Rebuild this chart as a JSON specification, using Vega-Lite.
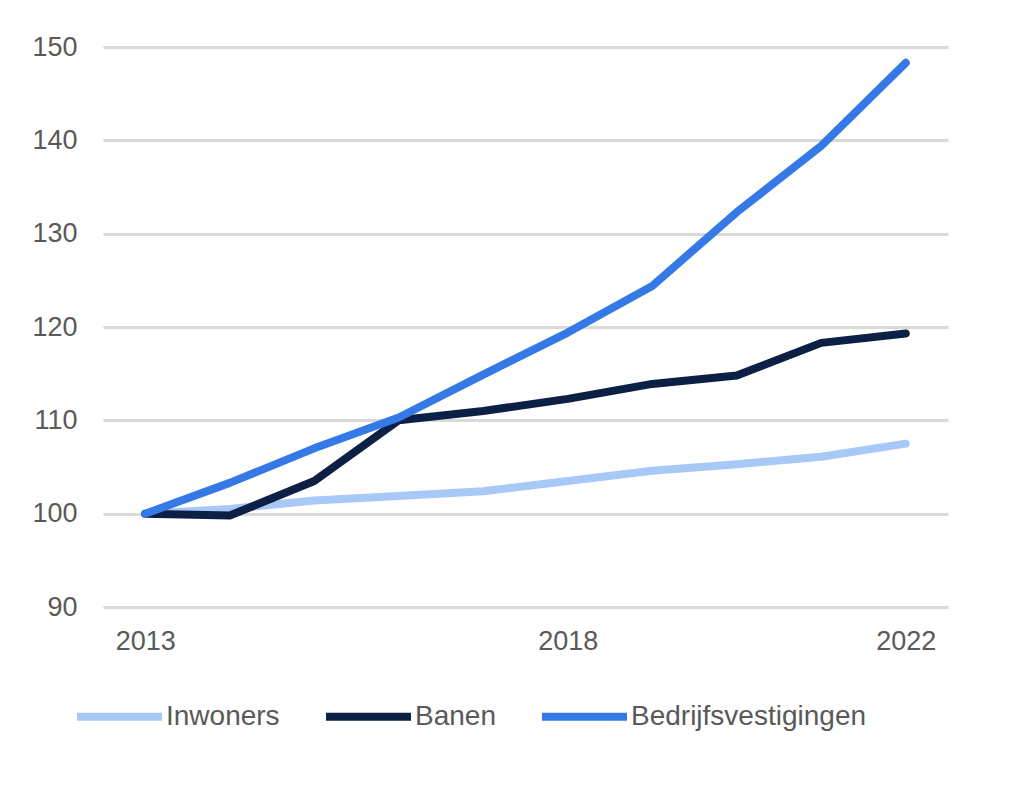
{
  "$schema": "https://vega.github.io/schema/vega-lite/v6.json",
  "width": 845,
  "height": 560,
  "autosize": "none",
  "padding": {"left": 103, "top": 47, "right": 88, "bottom": 185},
  "background": "white",
  "config": {
    "view": {"stroke": null},
    "font": "Liberation Sans"
  },
  "data": {
    "values": [
      {"jaar": 2013, "reeks": "Inwoners", "waarde": 100},
      {"jaar": 2014, "reeks": "Inwoners", "waarde": 100.5},
      {"jaar": 2015, "reeks": "Inwoners", "waarde": 101.4},
      {"jaar": 2016, "reeks": "Inwoners", "waarde": 101.9},
      {"jaar": 2017, "reeks": "Inwoners", "waarde": 102.4},
      {"jaar": 2018, "reeks": "Inwoners", "waarde": 103.5},
      {"jaar": 2019, "reeks": "Inwoners", "waarde": 104.6},
      {"jaar": 2020, "reeks": "Inwoners", "waarde": 105.3},
      {"jaar": 2021, "reeks": "Inwoners", "waarde": 106.1},
      {"jaar": 2022, "reeks": "Inwoners", "waarde": 107.5},
      {"jaar": 2013, "reeks": "Banen", "waarde": 100},
      {"jaar": 2014, "reeks": "Banen", "waarde": 99.8},
      {"jaar": 2015, "reeks": "Banen", "waarde": 103.5},
      {"jaar": 2016, "reeks": "Banen", "waarde": 110.0},
      {"jaar": 2017, "reeks": "Banen", "waarde": 111.0},
      {"jaar": 2018, "reeks": "Banen", "waarde": 112.3},
      {"jaar": 2019, "reeks": "Banen", "waarde": 113.9},
      {"jaar": 2020, "reeks": "Banen", "waarde": 114.8},
      {"jaar": 2021, "reeks": "Banen", "waarde": 118.3},
      {"jaar": 2022, "reeks": "Banen", "waarde": 119.3},
      {"jaar": 2013, "reeks": "Bedrijfsvestigingen", "waarde": 100},
      {"jaar": 2014, "reeks": "Bedrijfsvestigingen", "waarde": 103.3},
      {"jaar": 2015, "reeks": "Bedrijfsvestigingen", "waarde": 107.0},
      {"jaar": 2016, "reeks": "Bedrijfsvestigingen", "waarde": 110.3},
      {"jaar": 2017, "reeks": "Bedrijfsvestigingen", "waarde": 114.9},
      {"jaar": 2018, "reeks": "Bedrijfsvestigingen", "waarde": 119.4},
      {"jaar": 2019, "reeks": "Bedrijfsvestigingen", "waarde": 124.4},
      {"jaar": 2020, "reeks": "Bedrijfsvestigingen", "waarde": 132.3},
      {"jaar": 2021, "reeks": "Bedrijfsvestigingen", "waarde": 139.4},
      {"jaar": 2022, "reeks": "Bedrijfsvestigingen", "waarde": 148.3}
    ]
  },
  "mark": {"type": "line", "strokeWidth": 8, "strokeCap": "round", "strokeJoin": "round"},
  "encoding": {
    "x": {
      "field": "jaar",
      "type": "quantitative",
      "scale": {"domain": [2012.5, 2022.5], "nice": false, "zero": false},
      "axis": {
        "title": null,
        "values": [2013, 2018, 2022],
        "format": "d",
        "grid": false,
        "domain": false,
        "ticks": false,
        "labelFontSize": 27,
        "labelColor": "#595959",
        "labelPadding": 21,
        "labelFlush": false
      }
    },
    "y": {
      "field": "waarde",
      "type": "quantitative",
      "scale": {"domain": [90, 150], "nice": false, "zero": false},
      "axis": {
        "title": null,
        "values": [90, 100, 110, 120, 130, 140, 150],
        "grid": true,
        "gridColor": "#d9d9d9",
        "gridWidth": 3,
        "domain": false,
        "ticks": false,
        "labelFontSize": 27,
        "labelColor": "#595959",
        "labelPadding": 26
      }
    },
    "color": {
      "field": "reeks",
      "type": "nominal",
      "sort": ["Inwoners", "Banen", "Bedrijfsvestigingen"],
      "scale": {
        "domain": ["Inwoners", "Banen", "Bedrijfsvestigingen"],
        "range": ["#a8c9f8", "#0c1f44", "#3579e6"]
      },
      "legend": {
        "title": null,
        "orient": "none",
        "legendX": -30,
        "legendY": 623,
        "direction": "horizontal",
        "columns": 3,
        "symbolType": "stroke",
        "symbolSize": 7225,
        "symbolStrokeWidth": 8,
        "labelFontSize": 28,
        "labelColor": "#595959",
        "labelOffset": 0,
        "columnPadding": 30,
        "labelLimit": 400
      }
    }
  }
}
